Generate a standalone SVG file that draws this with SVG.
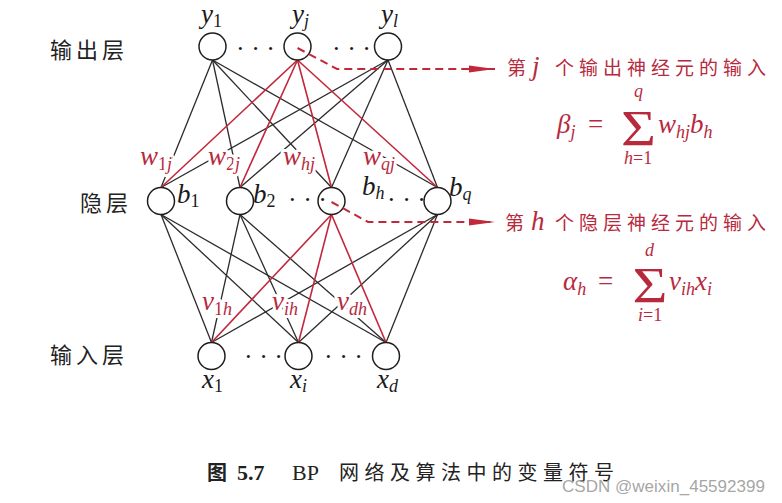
<svg xmlns="http://www.w3.org/2000/svg" width="782" height="503" viewBox="0 0 782 503">
<style>
.ln{stroke:#2b2b2b;stroke-width:1.3;fill:none}
.rl{stroke:#c2283c;stroke-width:1.6;fill:none}
.dl{stroke:#c2283c;stroke-width:2;fill:none;stroke-dasharray:8 5}
.nd{fill:#fff;stroke:#1e1e1e;stroke-width:1.5}
.m{font-family:"Liberation Serif",serif;font-style:italic;font-size:27px;fill:#1a1a1a}
.s{font-size:18px}
.u{font-style:normal}
.r{fill:#b72a3e}
.halo{stroke:#fff;stroke-width:6px;paint-order:stroke;stroke-linejoin:round}
.cn{font-family:"Noto Sans CJK SC",sans-serif;font-size:22px;fill:#222;letter-spacing:4px}
.rc{font-family:"Noto Sans CJK SC",sans-serif;font-size:19px;fill:#b72a3e;letter-spacing:5px}
.dots{font-family:"Liberation Serif",serif;font-size:26px;fill:#1a1a1a}
.sum{font-family:"Liberation Serif",serif;font-size:50px;fill:#b72a3e;text-anchor:middle}
</style>
<defs>
<marker id="ah" viewBox="0 0 10 10" refX="10" refY="5" markerWidth="26" markerHeight="10" markerUnits="userSpaceOnUse" orient="auto" preserveAspectRatio="none">
<path d="M0,1.5 L10,5 L0,8.5 Z" fill="#c2283c"/>
</marker>
</defs>
<rect width="782" height="503" fill="#fff"/>

<g id="layer-labels">
<text class="cn" x="50" y="58">输出层</text>
<text class="cn" x="80" y="211">隐层</text>
<text class="cn" x="50" y="363">输入层</text>
</g>

<g id="connectors">
<line class="ln" x1="212.5" y1="60" x2="161" y2="187.5"/>
<line class="ln" x1="212.5" y1="60" x2="240" y2="187.5"/>
<line class="ln" x1="212.5" y1="60" x2="331.5" y2="187.5"/>
<line class="ln" x1="212.5" y1="60" x2="437.5" y2="187.5"/>
<line class="ln" x1="388" y1="60" x2="161" y2="187.5"/>
<line class="ln" x1="388" y1="60" x2="240" y2="187.5"/>
<line class="ln" x1="388" y1="60" x2="331.5" y2="187.5"/>
<line class="ln" x1="388" y1="60" x2="437.5" y2="187.5"/>
<line class="ln" x1="161" y1="214.5" x2="211.5" y2="342.5"/>
<line class="ln" x1="161" y1="214.5" x2="298.5" y2="342.5"/>
<line class="ln" x1="161" y1="214.5" x2="386" y2="342.5"/>
<line class="ln" x1="240" y1="214.5" x2="211.5" y2="342.5"/>
<line class="ln" x1="240" y1="214.5" x2="298.5" y2="342.5"/>
<line class="ln" x1="240" y1="214.5" x2="386" y2="342.5"/>
<line class="ln" x1="437.5" y1="214.5" x2="211.5" y2="342.5"/>
<line class="ln" x1="437.5" y1="214.5" x2="298.5" y2="342.5"/>
<line class="ln" x1="437.5" y1="214.5" x2="386" y2="342.5"/>
</g>

<g id="weight-labels">
<text class="m r halo" x="140" y="165">w<tspan class="s" dy="5"><tspan class="u">1</tspan>j</tspan></text>
<text class="m r halo" x="208" y="165">w<tspan class="s" dy="5"><tspan class="u">2</tspan>j</tspan></text>
<text class="m r halo" x="283" y="165">w<tspan class="s" dy="5">hj</tspan></text>
<text class="m r halo" x="363" y="165">w<tspan class="s" dy="5">qj</tspan></text>
<text class="m r halo" x="202" y="310">v<tspan class="s" dy="5"><tspan class="u">1</tspan>h</tspan></text>
<text class="m r halo" x="272" y="310">v<tspan class="s" dy="5">ih</tspan></text>
<text class="m r halo" x="337" y="310">v<tspan class="s" dy="5">dh</tspan></text>
</g>

<g id="red-connectors">
<line class="rl" x1="297.5" y1="60" x2="161" y2="187.5"/>
<line class="rl" x1="297.5" y1="60" x2="240" y2="187.5"/>
<line class="rl" x1="297.5" y1="60" x2="331.5" y2="187.5"/>
<line class="rl" x1="297.5" y1="60" x2="437.5" y2="187.5"/>
<line class="rl" x1="331.5" y1="214.5" x2="211.5" y2="342.5"/>
<line class="rl" x1="331.5" y1="214.5" x2="298.5" y2="342.5"/>
<line class="rl" x1="331.5" y1="214.5" x2="386" y2="342.5"/>
</g>

<g id="node-y1"><circle class="nd" cx="212.5" cy="46.5" r="13.5"/><text class="m" x="201" y="23">y<tspan class="s u" dy="4">1</tspan></text></g>
<g id="node-yj"><circle class="nd" cx="297.5" cy="46.5" r="13.5"/><text class="m" x="292" y="23">y<tspan class="s" dy="4">j</tspan></text></g>
<g id="node-yl"><circle class="nd" cx="388" cy="46.5" r="13.5"/><text class="m" x="381" y="23">y<tspan class="s" dy="4">l</tspan></text></g>
<g id="node-b1"><circle class="nd" cx="161" cy="201" r="13.5"/><text class="m" x="177" y="203">b<tspan class="s u" dy="4">1</tspan></text></g>
<g id="node-b2"><circle class="nd" cx="240" cy="201" r="13.5"/><text class="m" x="253" y="203">b<tspan class="s u" dy="4">2</tspan></text></g>
<g id="node-bh"><circle class="nd" cx="331.5" cy="201" r="13.5"/><text class="m" x="362" y="195">b<tspan class="s" dy="4">h</tspan></text></g>
<g id="node-bq"><circle class="nd" cx="437.5" cy="201" r="13.5"/><text class="m" x="449" y="196">b<tspan class="s" dy="4">q</tspan></text></g>
<g id="node-x1"><circle class="nd" cx="211.5" cy="356" r="13.5"/><text class="m" x="202" y="388">x<tspan class="s u" dy="4">1</tspan></text></g>
<g id="node-xi"><circle class="nd" cx="298.5" cy="356" r="13.5"/><text class="m" x="290" y="388">x<tspan class="s" dy="4">i</tspan></text></g>
<g id="node-xd"><circle class="nd" cx="386" cy="356" r="13.5"/><text class="m" x="377" y="388">x<tspan class="s" dy="4">d</tspan></text></g>

<g id="ellipses">
<text class="dots" x="236" y="57">· · ·</text>
<text class="dots" x="332" y="57">· · ·</text>
<text class="dots" x="288" y="208">· · ·</text>
<text class="dots" x="387" y="208">· · ·</text>
<text class="dots" x="244" y="365">· · ·</text>
<text class="dots" x="324" y="365">· · ·</text>
</g>

<g id="pointers">
<polyline class="dl" points="297.5,48 337,69 495,69" marker-end="url(#ah)"/>
<polyline class="dl" points="331.5,202 368,222 495,222" marker-end="url(#ah)"/>
</g>

<g id="note-output">
<text class="rc" x="507" y="75">第</text>
<text class="m r" x="532" y="75" font-size="22">j</text>
<text class="rc" x="555" y="75">个输出神经元的输入</text>
</g>
<g id="formula-beta">
<text class="m r" x="557" y="133">β<tspan class="s" dy="5">j</tspan></text>
<text class="m r u" x="588" y="133">=</text>
<text class="sum" transform="translate(638.5,145) scale(1.2,1)">Σ</text>
<text class="m r s" x="634" y="97">q</text>
<text class="m r s" x="624" y="164">h<tspan class="u">=1</tspan></text>
<text class="m r" x="658" y="133">w<tspan class="s" dy="5">hj</tspan><tspan dy="-5">b</tspan><tspan class="s" dy="5">h</tspan></text>
</g>

<g id="note-hidden">
<text class="rc" x="505" y="230">第</text>
<text class="m r" x="531" y="230" font-size="22">h</text>
<text class="rc" x="555" y="230">个隐层神经元的输入</text>
</g>
<g id="formula-alpha">
<text class="m r" x="563" y="290">α<tspan class="s" dy="5">h</tspan></text>
<text class="m r u" x="598" y="290">=</text>
<text class="sum" transform="translate(650,302) scale(1.2,1)">Σ</text>
<text class="m r s" x="645" y="256">d</text>
<text class="m r s" x="638" y="321">i<tspan class="u">=1</tspan></text>
<text class="m r" x="669" y="290">v<tspan class="s" dy="5">ih</tspan><tspan dy="-5">x</tspan><tspan class="s" dy="5">i</tspan></text>
</g>

<g id="caption">
<text x="207" y="480" font-family="Noto Sans CJK SC,sans-serif" font-size="20" font-weight="700" fill="#222">图</text>
<text x="237" y="480" font-family="Liberation Serif,serif" font-size="22" font-weight="700" fill="#222">5.7</text>
<text x="292" y="480" font-family="Liberation Serif,serif" font-size="22" fill="#222">BP</text>
<text x="339" y="480" font-family="Noto Sans CJK SC,sans-serif" font-size="20" fill="#222" letter-spacing="5.5">网络及算法中的变量符号</text>
</g>
<text x="562" y="492" font-family="Liberation Sans,sans-serif" font-size="17" fill="#9a9a9a" fill-opacity="0.9" textLength="203">CSDN @weixin_45592399</text>
</svg>
